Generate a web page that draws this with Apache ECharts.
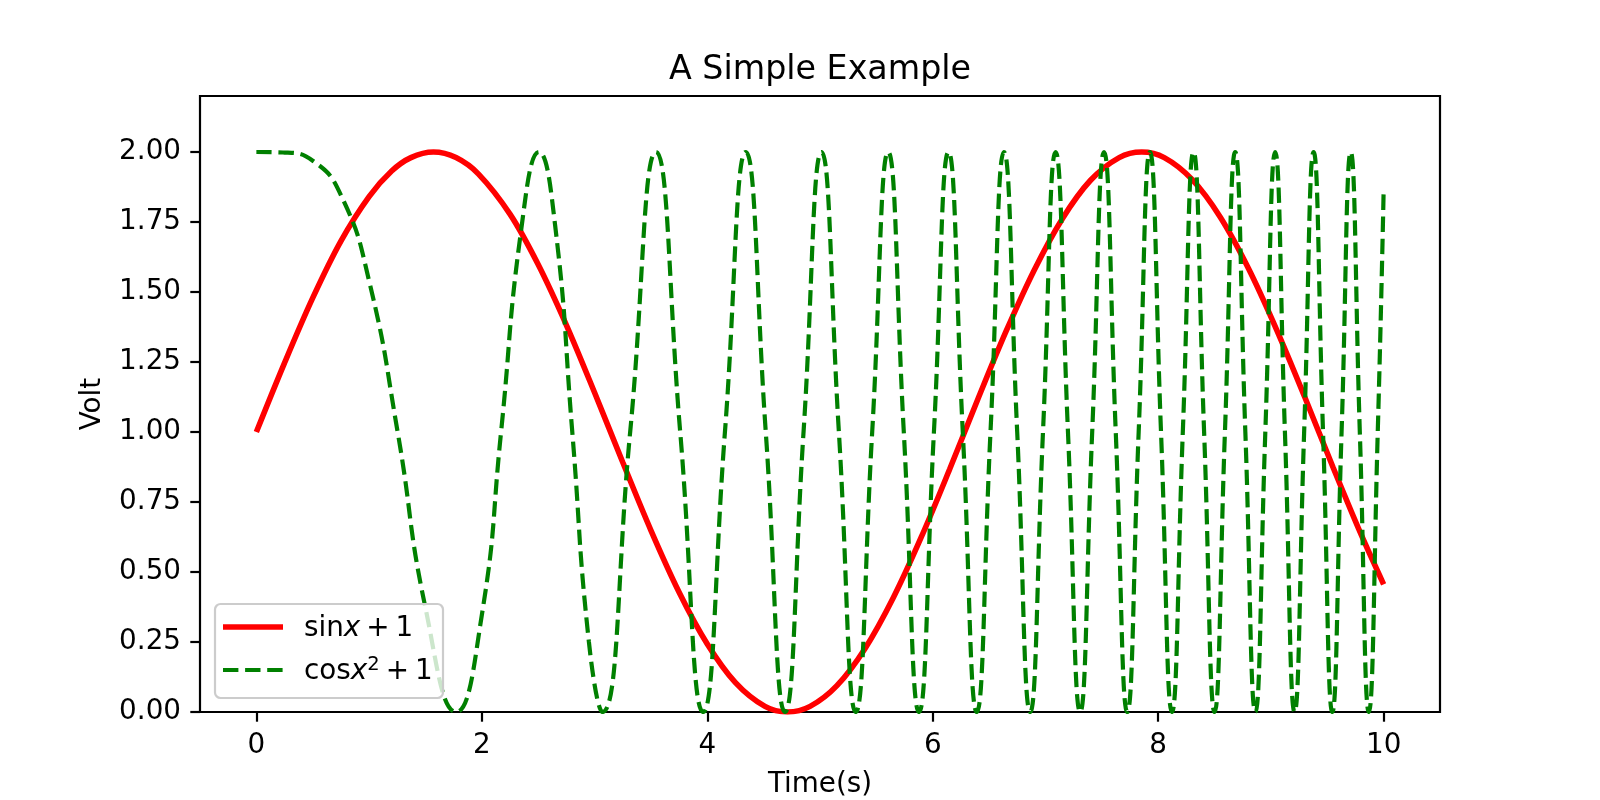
<!DOCTYPE html>
<html>
<head>
<meta charset="utf-8">
<script src="https://cdn.jsdelivr.net/npm/echarts@6/dist/echarts.min.js"></script>
<style>html,body{margin:0;padding:0;background:#fff;}#c{width:1600px;height:800px;}</style>
</head>
<body>
<div id="c"></div>
<script>
// ---- data ----
const titleText = 'A Simple Example';
const xName = 'Time(s)';
const yName = 'Volt';
const xTicks = [0, 2, 4, 6, 8, 10];
const yTicks = [0, 0.25, 0.5, 0.75, 1.0, 1.25, 1.5, 1.75, 2.0];

// sin x + 1 (red, solid)
const redX = [0, 0.25, 0.5, 0.75, 1.0, 1.2, 1.371, 1.571, 1.771, 1.971, 2.25, 2.5, 2.75, 3.0, 3.25,
  3.5, 3.75, 4.0, 4.25, 4.512, 4.712, 4.912, 5.15, 5.4, 5.65, 5.9, 6.15, 6.4, 6.65, 6.9,
  7.15, 7.4, 7.654, 7.854, 8.054, 8.3, 8.55, 8.8, 9.05, 9.3, 9.55, 9.8, 10];
const redY = [1, 1.247, 1.479, 1.682, 1.841, 1.932, 1.980, 2.0, 1.980, 1.921, 1.778, 1.598, 1.382, 1.141, 0.892,
  0.649, 0.428, 0.243, 0.105, 0.020, 0, 0.020, 0.094, 0.227, 0.408, 0.626, 0.867, 1.117, 1.359, 1.578,
  1.762, 1.899, 1.980, 2.0, 1.980, 1.902, 1.768, 1.585, 1.366, 1.125, 0.875, 0.634, 0.456];

// cos x^2 + 1 (green, dashed) : peaks, troughs and mid crossings
const greenX = [0, 0.25, 0.5, 0.75, 1.0, 1.2533, 1.5, 1.7725, 2.0, 2.1708, 2.35, 2.5066, 2.65, 2.8025, 2.95,
  3.0700, 3.3160, 3.5449, 3.7599, 3.9633, 4.1567, 4.3416, 4.5189, 4.6894, 4.8540,
  5.0133, 5.1675, 5.3174, 5.4630, 5.6050, 5.7434, 5.8785, 6.0106, 6.1399, 6.2666,
  6.3907, 6.5124, 6.6319, 6.7493, 6.8647, 6.9781, 7.0898, 7.1997, 7.3080, 7.4146,
  7.5199, 7.6236, 7.7259, 7.8269, 7.9266, 8.0251, 8.1223, 8.2185, 8.3135, 8.4074,
  8.5003, 8.5922, 8.6832, 8.7732, 8.8623, 8.9504, 9.0378, 9.1243, 9.2099, 9.2948,
  9.3789, 9.4623, 9.5449, 9.6269, 9.7081, 9.7887, 9.8686, 9.9478, 10];
const greenY = [2, 1.998, 1.969, 1.846, 1.540, 1, 0.372, 0, 0.346, 1, 1.7245, 2, 1.739, 1, 0.25,
  0, 1, 2, 1, 0, 1, 2, 1, 0, 1,
  2, 1, 0, 1, 2, 1, 0, 1, 2, 1,
  0, 1, 2, 1, 0, 1, 2, 1, 0, 1,
  2, 1, 0, 1, 2, 1, 0, 1, 2, 1,
  0, 1, 2, 1, 0, 1, 2, 1, 0, 1,
  2, 1, 0, 1, 2, 1, 0, 1, 1.862];

const legendNames = ['sin x + 1', 'cos x^2 + 1'];

// ---- build ----
const FONT = 'DejaVu Sans';
const FS = 27.8;
const redData = redX.map((x, i) => [x, redY[i]]);
const greenData = greenX.map((x, i) => [x, greenY[i]]);

const chart = echarts.init(document.getElementById('c'), null, {renderer: 'canvas'});
const richStyle = {
  n: {fontFamily: FONT, fontSize: FS, color: '#000', lineHeight: 34},
  i: {fontFamily: FONT, fontSize: FS, fontStyle: 'italic', color: '#000', lineHeight: 34},
  o: {fontFamily: FONT, fontSize: FS, color: '#000', lineHeight: 34, padding: [0, 6, 0, 6]},
  s: {fontFamily: FONT, fontSize: 19.5, color: '#000', lineHeight: 34, verticalAlign: 'top'}
};

chart.setOption({
  animation: false,
  backgroundColor: '#fff',
  grid: {left: 200, right: 160, top: 96, bottom: 88, show: true, borderColor: '#000', borderWidth: 2.2, backgroundColor: 'transparent'},
  xAxis: {
    type: 'value', min: -0.5, max: 10.5,
    axisLine: {show: false, onZero: false},
    splitLine: {show: false},
    axisTick: {show: true, length: 9.7, lineStyle: {color: '#000', width: 2.2}, customValues: xTicks},
    axisLabel: {color: '#000', fontFamily: FONT, fontSize: FS, margin: 20, customValues: xTicks,
      formatter: v => String(v)}
  },
  yAxis: {
    type: 'value', min: 0, max: 2.2,
    axisLine: {show: false, onZero: false},
    splitLine: {show: false},
    axisTick: {show: true, length: 9.7, lineStyle: {color: '#000', width: 2.2}, customValues: yTicks},
    axisLabel: {color: '#000', fontFamily: FONT, fontSize: FS, margin: 19, customValues: yTicks,
      formatter: v => v.toFixed(2)}
  },
  series: [
    {name: legendNames[0], type: 'line', data: redData, smooth: 0.33, symbol: 'none', showSymbol: false,
      lineStyle: {color: '#ff0000', width: 5.6}, z: 2},
    {name: legendNames[1], type: 'line', data: greenData, smooth: 0.5, symbol: 'none', showSymbol: false,
      lineStyle: {color: '#008000', width: 4.2, type: [15.4, 6.7]}, z: 3}
  ],
  graphic: [
    {type: 'text', x: 820, y: 70, style: {text: titleText, fontFamily: FONT, fontSize: 33.3, fill: '#000', align: 'center', verticalAlign: 'middle'}},
    {type: 'text', x: 820, y: 784.5, style: {text: xName, fontFamily: FONT, fontSize: FS, fill: '#000', align: 'center', verticalAlign: 'middle'}},
    {type: 'text', x: 93, y: 404, rotation: Math.PI / 2, style: {text: yName, fontFamily: FONT, fontSize: FS, fill: '#000', align: 'center', verticalAlign: 'middle'}},
    // legend
    {type: 'rect', z: 100, shape: {x: 215, y: 604, width: 228, height: 94, r: 5.6},
      style: {fill: 'rgba(255,255,255,0.8)', stroke: '#cccccc', lineWidth: 2.2}},
    {type: 'line', z: 101, shape: {x1: 223, y1: 627, x2: 283, y2: 627}, style: {stroke: '#ff0000', lineWidth: 5.6}},
    {type: 'line', z: 101, shape: {x1: 223, y1: 670, x2: 283, y2: 670}, style: {stroke: '#008000', lineWidth: 4.2, lineDash: [15.4, 6.7]}},
    {type: 'text', z: 101, x: 304, y: 629, style: {text: '{n|sin}{i|x}{o|+}{n|1}', rich: richStyle, align: 'left', verticalAlign: 'middle'}},
    {type: 'text', z: 101, x: 304, y: 672, style: {text: '{n|cos}{i|x}{s|2}{o|+}{n|1}', rich: richStyle, align: 'left', verticalAlign: 'middle'}}
  ]
});
</script>
</body>
</html>
